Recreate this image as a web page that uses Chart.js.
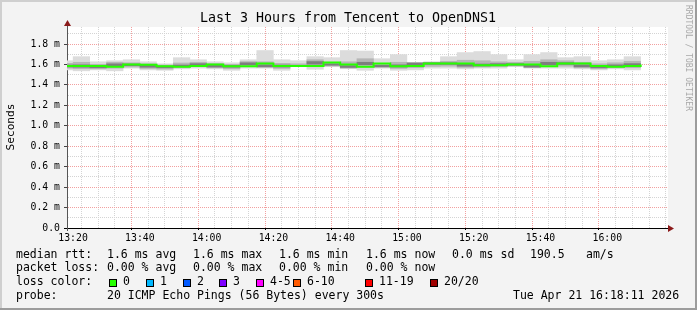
<!DOCTYPE html>
<html>
<head>
<meta charset="utf-8">
<script src="https://cdn.jsdelivr.net/npm/chart.js@4.4.1/dist/chart.umd.min.js"></script>
<style>
  html, body { margin: 0; padding: 0; background: #f3f3f3; }
  canvas { display: block; }
</style>
</head>
<body>
<canvas id="smoke" width="697" height="310"></canvas>
<script>
// Smokeping "Last 3 Hours" graph, Tencent -> OpenDNS1

// each value covers the 5 minutes that end at this time
const times = ["13:20", "13:25", "13:30", "13:35", "13:40", "13:45", "13:50", "13:55",
  "14:00", "14:05", "14:10", "14:15", "14:20", "14:25", "14:30", "14:35", "14:40",
  "14:45", "14:50", "14:55", "15:00", "15:05", "15:10", "15:15", "15:20", "15:25",
  "15:30", "15:35", "15:40", "15:45", "15:50", "15:55", "16:00", "16:05", "16:10"];

// ms
const pingMax = [1.64, 1.68, 1.63, 1.64, 1.65, 1.63, 1.61, 1.67, 1.65, 1.63, 1.62, 1.65,
  1.74, 1.65, 1.64, 1.68, 1.67, 1.74, 1.735, 1.66, 1.70, 1.625, 1.63, 1.68, 1.72, 1.73,
  1.70, 1.65, 1.70, 1.72, 1.67, 1.68, 1.64, 1.65, 1.68];
const pingHigh = [1.615, 1.625, 1.605, 1.625, 1.62, 1.61, 1.598, 1.618, 1.625, 1.612, 1.605,
  1.632, 1.63, 1.615, 1.61, 1.65, 1.625, 1.63, 1.66, 1.615, 1.625, 1.62, 1.625, 1.635,
  1.645, 1.64, 1.63, 1.625, 1.635, 1.65, 1.64, 1.625, 1.61, 1.62, 1.635];
const pingCoreHigh = [1.598, 1.60, 1.59, 1.61, 1.608, 1.595, 1.588, 1.598, 1.612, 1.596,
  1.594, 1.62, 1.60, 1.598, 1.595, 1.632, 1.61, 1.592, 1.625, 1.595, 1.60, 1.618, 1.62,
  1.62, 1.61, 1.608, 1.612, 1.612, 1.605, 1.625, 1.622, 1.60, 1.59, 1.60, 1.612];
const pingMedian = [1.586, 1.586, 1.577, 1.60, 1.597, 1.583, 1.577, 1.586, 1.60, 1.583,
  1.583, 1.61, 1.586, 1.586, 1.586, 1.62, 1.60, 1.577, 1.61, 1.583, 1.586, 1.61, 1.61,
  1.61, 1.593, 1.593, 1.60, 1.60, 1.583, 1.61, 1.61, 1.586, 1.577, 1.586, 1.60];
const pingCoreLow = [1.572, 1.57, 1.565, 1.585, 1.585, 1.57, 1.565, 1.575, 1.59, 1.572,
  1.57, 1.595, 1.575, 1.572, 1.58, 1.60, 1.59, 1.568, 1.595, 1.575, 1.572, 1.59, 1.598,
  1.598, 1.58, 1.582, 1.588, 1.59, 1.572, 1.595, 1.598, 1.574, 1.565, 1.574, 1.585];
const pingLow = [1.56, 1.555, 1.555, 1.56, 1.572, 1.558, 1.552, 1.565, 1.575, 1.565, 1.555,
  1.578, 1.568, 1.558, 1.577, 1.575, 1.582, 1.562, 1.57, 1.568, 1.558, 1.565, 1.578, 1.58,
  1.568, 1.572, 1.575, 1.582, 1.566, 1.578, 1.58, 1.565, 1.555, 1.565, 1.565];
const pingMin = [1.544, 1.535, 1.544, 1.535, 1.561, 1.544, 1.54, 1.554, 1.561, 1.554, 1.54,
  1.561, 1.561, 1.54, 1.575, 1.55, 1.575, 1.555, 1.54, 1.561, 1.54, 1.544, 1.561, 1.561,
  1.554, 1.561, 1.561, 1.575, 1.561, 1.561, 1.561, 1.554, 1.544, 1.554, 1.544];

const xTickLabels = ["13:20", "13:40", "14:00", "14:20", "14:40", "15:00", "15:20", "15:40", "16:00"];
const yTickValues = [0, 0.2, 0.4, 0.6, 0.8, 1.0, 1.2, 1.4, 1.6, 1.8];
const yTickLabels = ["0.0", "0.2 m", "0.4 m", "0.6 m", "0.8 m", "1.0 m", "1.2 m", "1.4 m", "1.6 m", "1.8 m"];

const lossLabels = ["0", "1", "2", "3", "4-5", "6-10", "11-19", "20/20"];
const lossColors = ["#26ff00", "#00b8ff", "#0059ff", "#7e00ff", "#ff00ff", "#ff5a00", "#ff0000", "#a00000"];

const windowStart = "13:18:11";
const windowEnd = "16:18:11";
const yMax = 1.967;

const MONO = "'DejaVu Sans Mono', 'Liberation Mono', monospace";

function toMin(t) {
  const p = t.split(":").map(Number);
  return p[0] * 60 + p[1] + (p[2] || 0) / 60;
}

// floating bars, one 5-minute block each
function band(lo, hi) {
  return times.map((t, i) => ({ x: toMin(t) - 2.5, y: [lo[i], hi[i]] }));
}

const medianPoints = [{ x: toMin(times[0]) - 5, y: pingMedian[0] }].concat(
  times.map((t, i) => ({ x: toMin(t), y: pingMedian[i] }))
);

const isMajorX = (c) => !!c.tick && xTickLabels.some((l) => Math.abs(toMin(l) - c.tick.value) < 1e-6);
const yLabelIdx = (v) => yTickValues.findIndex((y) => Math.abs(y - v) < 1e-6);
const isMajorY = (c) => !!c.tick && yLabelIdx(c.tick.value) >= 0;

const barCommon = { grouped: false, barPercentage: 1.03, categoryPercentage: 1, borderWidth: 0 };

// background, frame, texts, axis arrows
const decor = {
  id: "decor",
  beforeDraw(chart) {
    const { ctx, width, height, chartArea: a } = chart;
    ctx.save();
    ctx.fillStyle = "#f3f3f3";
    ctx.fillRect(0, 0, width, height);
    ctx.fillStyle = "#cfcfcf";
    ctx.fillRect(0, 0, width, 2);
    ctx.fillRect(0, 0, 2, height);
    ctx.fillStyle = "#9c9c9c";
    ctx.fillRect(0, height - 2, width, 2);
    ctx.fillRect(width - 2, 0, 2, height);
    ctx.fillStyle = "#ffffff";
    ctx.fillRect(a.left, a.top, a.right - a.left, a.bottom - a.top);
    ctx.restore();
  },
  afterDraw(chart) {
    const { ctx, chartArea: a } = chart;
    ctx.save();
    // axis extensions + arrows
    ctx.strokeStyle = "#555";
    ctx.lineWidth = 1;
    ctx.beginPath();
    ctx.moveTo(67.5, a.top);
    ctx.lineTo(67.5, 22);
    ctx.moveTo(67.5, a.bottom);
    ctx.lineTo(67.5, a.bottom + 3);
    ctx.stroke();
    ctx.strokeStyle = "#000";
    ctx.beginPath();
    ctx.moveTo(64, 228.5);
    ctx.lineTo(67, 228.5);
    ctx.moveTo(a.right, 228.5);
    ctx.lineTo(669, 228.5);
    ctx.stroke();
    ctx.fillStyle = "#8b1a1a";
    ctx.beginPath();
    ctx.moveTo(64, 26);
    ctx.lineTo(71, 26);
    ctx.lineTo(67.5, 20);
    ctx.closePath();
    ctx.fill();
    ctx.beginPath();
    ctx.moveTo(668, 225);
    ctx.lineTo(668, 232);
    ctx.lineTo(674, 228.5);
    ctx.closePath();
    ctx.fill();

    // title
    ctx.fillStyle = "#000";
    ctx.font = "13.3px " + MONO;
    ctx.textAlign = "center";
    ctx.textBaseline = "middle";
    ctx.fillText("Last 3 Hours from Tencent to OpenDNS1", 348, 19);

    // y title
    ctx.save();
    ctx.translate(11, 127);
    ctx.rotate(-Math.PI / 2);
    ctx.font = "11.2px " + MONO;
    ctx.fillText("Seconds", 0, 0);
    ctx.restore();

    // watermark
    ctx.save();
    ctx.translate(688, 5);
    ctx.rotate(Math.PI / 2);
    ctx.font = "8px " + MONO;
    ctx.fillStyle = "#a8a8a8";
    ctx.textAlign = "left";
    ctx.fillText("RRDTOOL / TOBI OETIKER", 0, 0);
    ctx.restore();

    // legend block
    ctx.font = "11.5px " + MONO;
    ctx.textAlign = "left";
    ctx.fillStyle = "#000";
    const r1 = 255, r2 = 268.5, r3 = 282.5, r4 = 296;
    ctx.fillText("median rtt:", 16, r1);
    ctx.fillText("1.6 ms avg", 107, r1);
    ctx.fillText("1.6 ms max", 193, r1);
    ctx.fillText("1.6 ms min", 279, r1);
    ctx.fillText("1.6 ms now", 366, r1);
    ctx.fillText("0.0 ms sd", 452, r1);
    ctx.fillText("190.5", 530, r1);
    ctx.fillText("am/s", 586, r1);

    ctx.fillText("packet loss:", 16, r2);
    ctx.fillText("0.00 % avg", 107, r2);
    ctx.fillText("0.00 % max", 193, r2);
    ctx.fillText("0.00 % min", 279, r2);
    ctx.fillText("0.00 % now", 366, r2);

    ctx.fillText("loss color:", 16, r3);
    const boxX = [109, 146, 183, 219, 256, 293, 365, 430];
    lossLabels.forEach((l, i) => {
      ctx.fillStyle = lossColors[i];
      ctx.fillRect(boxX[i], 279, 8, 8);
      ctx.strokeStyle = "#000";
      ctx.strokeRect(boxX[i] + 0.5, 279.5, 7, 7);
      ctx.fillStyle = "#000";
      ctx.fillText(l, boxX[i] + 14, r3);
    });

    ctx.fillText("probe:", 16, r4);
    ctx.fillText("20 ICMP Echo Pings (56 Bytes) every 300s", 107, r4);
    ctx.fillText("Tue Apr 21 16:18:11 2026", 513, r4);
    ctx.restore();
  },
};

new Chart(document.getElementById("smoke").getContext("2d"), {
  type: "bar",
  data: {
    datasets: [
      { label: "median", type: "line", data: medianPoints, stepped: "before",
        borderColor: lossColors[0], borderWidth: 2, pointRadius: 0, clip: 0, order: 0 },
      { label: "core", data: band(pingCoreLow, pingCoreHigh), backgroundColor: "#7e7e7e", order: 1, ...barCommon },
      { label: "mid", data: band(pingLow, pingHigh), backgroundColor: "#b6b6b6", order: 2, ...barCommon },
      { label: "range", data: band(pingMin, pingMax), backgroundColor: "#dcdcdc", order: 3, ...barCommon },
    ],
  },
  options: {
    responsive: false,
    animation: false,
    events: [],
    layout: { padding: { top: 27, right: 29, bottom: 0, left: 0 } },
    plugins: { legend: { display: false }, tooltip: { enabled: false }, title: { display: false } },
    scales: {
      x: {
        type: "linear",
        offset: false,
        min: toMin(windowStart),
        max: toMin(windowEnd),
        afterBuildTicks(s) {
          const t = [];
          for (let v = Math.ceil(s.min / 5) * 5; v <= s.max; v += 5) t.push({ value: v });
          s.ticks = t;
        },
        afterFit(s) { s.height = 82; },
        grid: {
          color: (c) => (isMajorX(c) ? "#f2a0a0" : "#d4d4d4"),
          tickColor: (c) => (isMajorX(c) ? "#000" : "transparent"),
          tickLength: 2,
        },
        border: { color: "#000", dash: [1, 1] },
        ticks: {
          autoSkip: false,
          maxRotation: 0,
          padding: 3,
          color: "#000",
          font: { family: MONO, size: 9.8 },
          callback: (v) => {
            const i = xTickLabels.findIndex((l) => Math.abs(toMin(l) - v) < 1e-6);
            return i >= 0 ? xTickLabels[i] : "";
          },
        },
      },
      y: {
        min: 0,
        max: yMax,
        afterBuildTicks(s) {
          const t = [];
          for (let i = 0; i <= 19; i++) t.push({ value: i / 10 });
          s.ticks = t;
        },
        afterFit(s) { s.width = 67; },
        grid: {
          color: (c) => (isMajorY(c) ? "#f2a0a0" : "#d4d4d4"),
          tickColor: (c) => (isMajorY(c) ? "#444" : "transparent"),
          tickLength: 3,
        },
        border: { color: "#555", dash: [1, 1] },
        ticks: {
          autoSkip: false,
          padding: 4,
          color: "#000",
          font: { family: MONO, size: 9.8 },
          callback: (v) => {
            const i = yLabelIdx(v);
            return i >= 0 ? yTickLabels[i] : "";
          },
        },
      },
    },
  },
  plugins: [decor],
});
</script>
</body>
</html>
